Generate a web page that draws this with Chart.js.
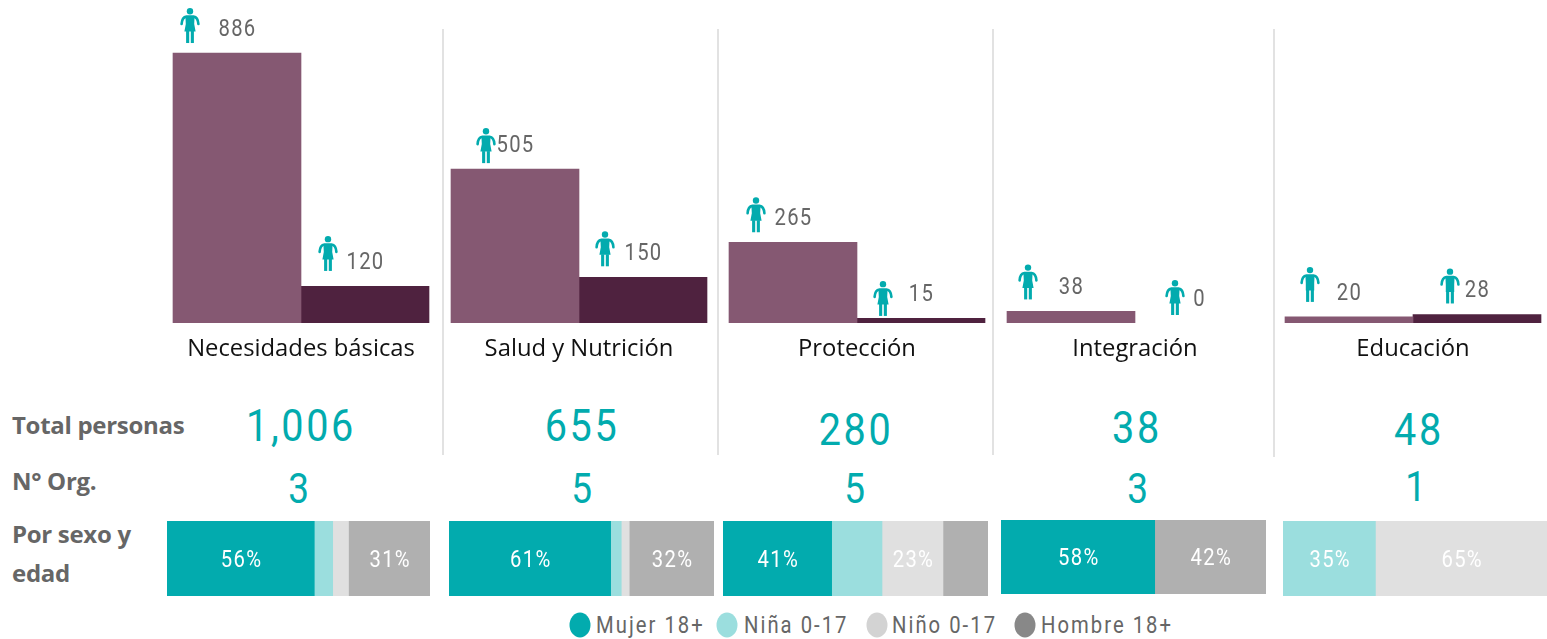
<!DOCTYPE html>
<html lang="es"><head><meta charset="utf-8">
<style>
html,body{margin:0;padding:0;width:1547px;height:639px;overflow:hidden;background:#fff}
canvas{display:block}
.abs{position:absolute}
.t{position:absolute;white-space:nowrap;transform:translate(-50%,-50%) scaleX(.88);font-family:Roboto,sans-serif;line-height:1}
.big{color:#02abae;font-size:45px;letter-spacing:3px}
.head{position:absolute;left:12px;font:700 24px "Open Sans",sans-serif;color:#666;white-space:nowrap;transform:translateY(-50%);letter-spacing:-.3px}
.sep{position:absolute;width:2px;background:#e2e2e2}
.leg{position:absolute;font:23px Roboto,sans-serif;color:#666;white-space:nowrap;transform:translateY(-50%) scaleX(.88);transform-origin:left center;letter-spacing:2.3px}
.mark{position:absolute;width:21px;height:25px;border-radius:50%;transform:translate(-50%,-50%)}
</style></head><body>
<div id="root"></div>
<script src="https://cdn.jsdelivr.net/npm/chart.js@4"></script>
<script>
const categories=["Necesidades básicas","Salud y Nutrición","Protección","Integración","Educación"];
const seriesA=[886,505,265,38,20];
const seriesB=[120,150,15,0,28];
const totals=["1,006","655","280","38","48"];
const orgs=["3","5","5","3","1"];
const mujer=[56,61,41,58,0];
const nina=[7,4,19,0,35];
const nino=[6,3,23,0,65];
const hombre=[31,32,17,42,0];
const pctLabels=[["56%","","","31%"],["61%","","","32%"],["41%","","23%",""],["58%","","","42%"],["","35%","65%",""]];
const legendNames=["Mujer 18+","Niña 0-17","Niño 0-17","Hombre 18+"];

/* layout and style, separate from the data */
const C={teal:"#02abae",lteal:"#9bdede",lgray:"#e0e0e0",gray:"#b0b0b0",barA:"#855872",barB:"#4f223f",txt:"#666"};
const iconDX=[[-47,-29,-37,-43,-39],[-37,-38,-38,-24,-27]];
const iconDY=[[-27.5,-23.5,-27.5,-29.5,-32.5],[-33,-28.5,-20,-25.5,-28.5]];
const iconDress=[[1,1,1,1,0],[1,1,1,1,0]];
const totalPos=[[301,425],[582,425],[856,429],[1137,427],[1419,429]];
const orgPos=[[300,489],[583,489],[856,489],[1139,489],[1417,487]];
const stackBox=[[167,521,263,75],[449,521,265,75],[723,521,265,75],[1001,520,265,74],[1283,521,264,75]];
const seps=[[442,29,426],[717,29,426],[992,29,426],[1273,29,428]];
const heads=[["Total personas",424],["N° Org.",480],["Por sexo y",533],["edad",572]];
const legendPos=[[580,596,C.teal],[727,744,C.lteal],[877,892,"#d3d3d3"],[1025,1041,"#888888"]];

const root=document.getElementById("root");
function el(cls,txt,css){const d=document.createElement("div");d.className=cls;if(txt!=null)d.textContent=txt;Object.assign(d.style,css||{});root.appendChild(d);return d;}
seps.forEach(s=>el("sep",null,{left:s[0]+"px",top:s[1]+"px",height:s[2]+"px"}));
heads.forEach(h=>el("head",h[0],{top:h[1]+"px"}));
totals.forEach((t,i)=>el("t big",t,{left:totalPos[i][0]+"px",top:totalPos[i][1]+"px"}));
orgs.forEach((t,i)=>el("t big",t,{left:orgPos[i][0]+"px",top:orgPos[i][1]+"px",fontSize:"42px"}));
legendNames.forEach((n,i)=>{const p=legendPos[i];
  el("mark",null,{left:p[0]+"px",top:"625px",background:p[2]});
  el("leg",n,{left:p[1]+"px",top:"625px"});});

function person(ctx,cx,cy,color,dress){
  ctx.save();ctx.translate(cx,cy-17.5);
  ctx.fillStyle=color;ctx.strokeStyle=color;
  ctx.beginPath();ctx.arc(0,3.2,3.2,0,Math.PI*2);ctx.fill();
  ctx.lineWidth=2.6;ctx.lineCap="round";ctx.beginPath();
  ctx.moveTo(-8.4,16);ctx.quadraticCurveTo(-8,9.2,-3.5,8.6);ctx.lineTo(3.5,8.6);ctx.quadraticCurveTo(8,9.2,8.4,16);ctx.stroke();
  const f=dress?5.6:4.2;
  ctx.beginPath();ctx.moveTo(-4.6,8);ctx.lineTo(4.6,8);ctx.lineTo(4.2,16);ctx.lineTo(f,23.5);ctx.lineTo(-f,23.5);ctx.lineTo(-4.2,16);ctx.closePath();ctx.fill();
  ctx.fillRect(-3.9,23,3.1,12);ctx.fillRect(.8,23,3.1,12);
  ctx.restore();
}
function slimText(ctx,txt,x,y,color){
  ctx.save();ctx.fillStyle=color;ctx.font="23px Roboto, sans-serif";ctx.letterSpacing="1.5px";
  ctx.textAlign="center";ctx.textBaseline="middle";ctx.translate(x,y);ctx.scale(.88,1);
  ctx.fillText(txt,0,0);ctx.restore();
}
const fillIfValue=col=>c=>c.raw?col:"rgba(0,0,0,0)";
const barDeco={id:"barDeco",afterDatasetsDraw(ch){
  const ctx=ch.ctx;
  ch.data.datasets.forEach((ds,d)=>{
    ch.getDatasetMeta(d).data.forEach((b,i)=>{
      slimText(ctx,String(ds.data[i]),b.x+.5,b.y-23,C.txt);
      person(ctx,b.x+iconDX[d][i],b.y+iconDY[d][i],C.teal,iconDress[d][i]);
    });
  });
}};
function box(l,t,w,h){const d=el("abs",null,{left:l+"px",top:t+"px",width:w+"px",height:h+"px"});const c=document.createElement("canvas");c.width=w;c.height=h;c.style.width=w+"px";c.style.height=h+"px";d.appendChild(c);return c;}
new Chart(box(162,0,1390,365),{type:"bar",plugins:[barDeco],data:{labels:categories,datasets:[
  {label:"A",data:seriesA,backgroundColor:fillIfValue(C.barA)},{label:"B",data:seriesB,backgroundColor:fillIfValue(C.barB)}]},
  options:{responsive:false,animation:false,devicePixelRatio:1,layout:{padding:0},
   plugins:{legend:{display:false},tooltip:{enabled:false}},
   datasets:{bar:{barThickness:128}},
   scales:{
    y:{display:false,min:0,max:1060},
    x:{grid:{display:false},border:{display:false},
       afterFit(a){a.height=42;},
       ticks:{color:"#111",padding:4,maxRotation:0,autoSkip:false,font:{family:"Open Sans",size:23.8}}}
   }}});

const stackLabel={id:"stackLabel",afterDatasetsDraw(ch){
  const ctx=ch.ctx,idx=ch.options.rowIndex;
  ch.data.datasets.forEach((ds,d)=>{
    const txt=pctLabels[idx][d];if(!txt)return;
    const b=ch.getDatasetMeta(d).data[0];
    slimText(ctx,txt,(b.base+b.x)/2+1,b.y+2.5,"#fff");
  });
}};
categories.forEach((cat,i)=>{
  const b=stackBox[i];
  new Chart(box(b[0],b[1],b[2],b[3]),{type:"bar",plugins:[stackLabel],data:{labels:[cat],datasets:[
    {label:legendNames[0],data:[mujer[i]],backgroundColor:fillIfValue(C.teal)},
    {label:legendNames[1],data:[nina[i]],backgroundColor:fillIfValue(C.lteal)},
    {label:legendNames[2],data:[nino[i]],backgroundColor:fillIfValue(C.lgray)},
    {label:legendNames[3],data:[hombre[i]],backgroundColor:fillIfValue(C.gray)}]},
   options:{rowIndex:i,indexAxis:"y",responsive:false,animation:false,devicePixelRatio:1,layout:{padding:0},
    plugins:{legend:{display:false},tooltip:{enabled:false}},
    datasets:{bar:{barPercentage:1,categoryPercentage:1}},
    scales:{x:{display:false,stacked:true,min:0,max:100},y:{display:false,stacked:true}}}});
});
</script></body></html>
